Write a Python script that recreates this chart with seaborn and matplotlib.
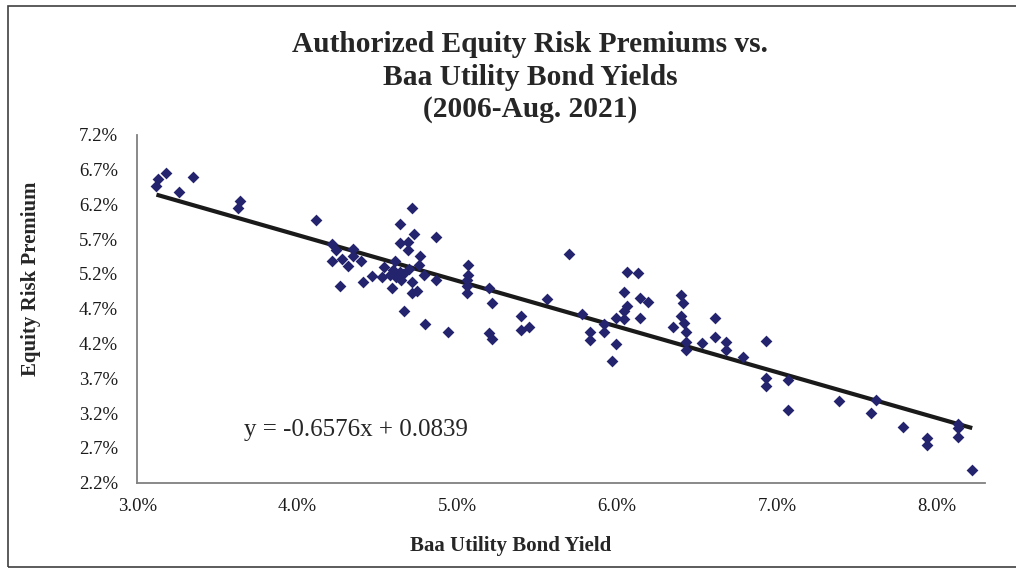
import numpy as np
import pandas as pd
import seaborn as sns
import matplotlib.pyplot as plt
from matplotlib.ticker import PercentFormatter

# values, in percent
bond_yield = [3.12, 3.13, 3.18, 3.35, 3.26, 3.64, 3.63, 4.12,
              4.72, 4.64, 4.73, 4.64, 4.69, 4.87, 4.69, 4.77,
              4.22, 4.24, 4.35, 4.22, 4.28, 4.32, 4.40, 4.35,
              4.54, 4.61, 4.64, 4.58, 4.53, 4.62, 4.70, 4.76,
              4.79, 4.87, 4.47, 4.41, 4.27, 4.59, 4.72, 4.72,
              4.75, 4.67, 4.80, 4.94, 4.60, 4.65, 4.66,
              5.07, 5.07, 5.06, 5.06, 5.06, 5.20, 5.22, 5.20,
              5.22, 5.40, 5.40, 5.45, 5.56, 5.70, 5.78, 5.83,
              5.83, 5.92, 5.92, 5.99, 5.97, 5.99, 6.04, 6.04,
              6.06, 6.04, 6.06, 6.13, 6.14, 6.19, 6.14, 6.40,
              6.41, 6.40, 6.35, 6.42, 6.43, 6.43, 6.43, 6.53,
              6.61, 6.61, 6.68, 6.68, 6.79, 6.93, 6.93, 6.93,
              7.07, 7.07, 7.39, 7.62, 7.59, 7.79, 7.94, 7.94,
              8.13, 8.13, 8.13, 8.22]
risk_premium = [6.46, 6.56, 6.65, 6.59, 6.37, 6.25, 6.15, 5.97,
                6.15, 5.91, 5.77, 5.65, 5.66, 5.73, 5.54, 5.46,
                5.63, 5.54, 5.56, 5.38, 5.42, 5.32, 5.39, 5.45,
                5.30, 5.38, 5.23, 5.18, 5.16, 5.15, 5.27, 5.33,
                5.18, 5.11, 5.17, 5.08, 5.03, 5.00, 5.08, 4.92,
                4.95, 4.66, 4.48, 4.36, 5.26, 5.11, 5.20,
                5.33, 5.18, 5.11, 5.02, 4.92, 5.00, 4.78, 4.35,
                4.26, 4.60, 4.39, 4.43, 4.84, 5.48, 4.62, 4.37,
                4.25, 4.48, 4.37, 4.19, 3.95, 4.56, 4.55, 4.66,
                4.74, 4.94, 5.23, 5.21, 4.85, 4.80, 4.56, 4.90,
                4.78, 4.60, 4.44, 4.49, 4.37, 4.22, 4.11, 4.21,
                4.56, 4.29, 4.22, 4.11, 4.01, 4.24, 3.71, 3.59,
                3.67, 3.24, 3.38, 3.39, 3.20, 3.00, 2.84, 2.74,
                3.05, 2.98, 2.86, 2.38]

# axis ticks (percent)
x_ticks = [3.0, 4.0, 5.0, 6.0, 7.0, 8.0]
y_ticks = [2.2, 2.7, 3.2, 3.7, 4.2, 4.7, 5.2, 5.7, 6.2, 6.7, 7.2]

# trend line as printed on the chart
slope = -0.6576
intercept = 0.0839

title = 'Authorized Equity Risk Premiums vs.\nBaa Utility Bond Yields\n(2006-Aug. 2021)'
x_label = 'Baa Utility Bond Yield'
y_label = 'Equity Risk Premium'
eq_text = 'y = -0.6576x + 0.0839'

df = pd.DataFrame({'yield': np.array(bond_yield) / 100,
                   'erp': np.array(risk_premium) / 100})

sns.set_style('white')
plt.rcParams['font.family'] = ['Liberation Serif', 'DejaVu Serif']

fig = plt.figure(figsize=(10.16, 5.68), dpi=100)
ax = fig.add_axes([0.1351, 0.1502, 0.8344, 0.6127])

sns.scatterplot(data=df, x='yield', y='erp', marker='D', s=36,
                color='#23236e', linewidth=0, ax=ax, zorder=3)

xs = np.array([df['yield'].min(), df['yield'].max()])
ax.plot(xs, slope * xs + intercept, color='#1a1a1a', lw=3, zorder=2,
        solid_capstyle='butt')

ax.set_xlim(0.03, 0.083)
ax.set_ylim(0.022, 0.072)
ax.set_xticks(np.array(x_ticks) / 100)
ax.set_yticks(np.array(y_ticks) / 100)
ax.xaxis.set_major_formatter(PercentFormatter(xmax=1, decimals=1))
ax.yaxis.set_major_formatter(PercentFormatter(xmax=1, decimals=1))

for side in ['top', 'right']:
    ax.spines[side].set_visible(False)
for side in ['left', 'bottom']:
    ax.spines[side].set_color('#808080')
    ax.spines[side].set_linewidth(1.3)
ax.tick_params(axis='both', direction='out', length=5, width=1.1,
               color='#808080', labelsize=13.5, labelcolor='#1a1a1a')
ax.tick_params(axis='y', pad=9)
ax.tick_params(axis='x', pad=6)

ax.set_xlabel(x_label, fontsize=15, fontweight='bold')
ax.set_ylabel(y_label, fontsize=15, fontweight='bold')
ax.xaxis.set_label_coords(0.44, -0.152)
ax.yaxis.set_label_coords(-0.113, 0.585)

fig.text(0.5217, 0.864, title, ha='center', va='center', fontsize=21.2,
         fontweight='bold', linespacing=1.25)
ax.text(0.0437, 0.0296, eq_text, ha='center', va='center', fontsize=18)

border = plt.Rectangle((8 / 1016, 1.5 / 568), 1.1, 561 / 568,
                       transform=fig.transFigure, fill=False,
                       edgecolor='#404040', lw=1.2)
fig.patches.append(border)

fig.savefig('out.png', dpi=100)
